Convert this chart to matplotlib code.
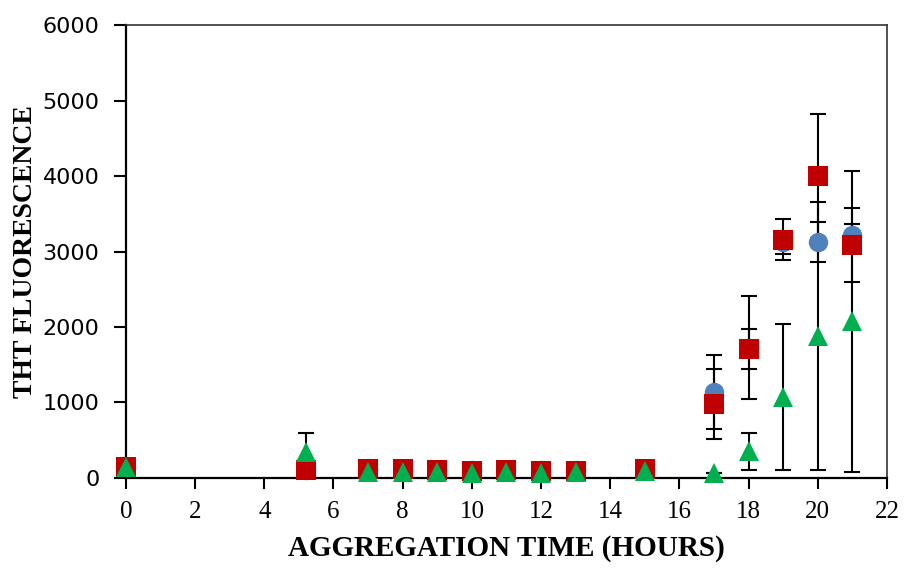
import numpy as np
import matplotlib
matplotlib.use("Agg")
import matplotlib.pyplot as plt

# aggregation time (hours)
t = [0, 5.2, 7, 8, 9, 10, 11, 12, 13, 15, 17, 18, 19, 20, 21]

# three series of ThT fluorescence with their error bars
blue = [150, 100, 120, 120, 110, 105, 110, 100, 100, 120, 1139, 1728, 3120, 3126, 3220]
blue_err = [0, 0, 0, 0, 0, 0, 0, 0, 0, 0, 490, 682, 150, 265, 150]

red = [150, 100, 120, 120, 100, 90, 100, 90, 90, 120, 980, 1709, 3158, 4000, 3086]
red_err = [0, 0, 0, 0, 0, 0, 0, 0, 0, 0, 463, 265, 272, 820, 490]

green = [150, 344, 80, 80, 80, 60, 80, 60, 80, 90, 60, 351, 1073, 1881, 2073]
green_err = [0, 252, 0, 0, 0, 0, 0, 0, 0, 0, 0, 245, 967, 1775, 1993]

plt.rcParams['font.family'] = ['Liberation Serif', 'DejaVu Serif']

fig = plt.figure(figsize=(9.06, 5.73), dpi=100)
ax = fig.add_axes([0.139, 0.166, 0.840, 0.790])

# error bars first (behind the markers)
for y, e in [(blue, blue_err), (red, red_err), (green, green_err)]:
    ax.errorbar(t, y, yerr=e, fmt='none', ecolor='black', elinewidth=1.5,
                capsize=6, capthick=1.5, zorder=2)

ax.plot(t, blue, 'o', color='#4F81BD', markersize=14, markeredgewidth=0, zorder=3, clip_on=False)
ax.plot(t, red, 's', color='#C00000', markersize=14, markeredgewidth=0, zorder=4, clip_on=False)
ax.plot(t, green, '^', color='#00B050', markersize=14, markeredgewidth=0, zorder=5, clip_on=False)

ax.set_xlim(0, 22)
ax.set_ylim(0, 6000)
ax.set_xticks(np.arange(0, 23, 2))
ax.set_yticks(np.arange(0, 6001, 1000))
ax.tick_params(axis='x', direction='out', length=8, width=1.5, labelsize=18, pad=9)
ax.tick_params(axis='y', direction='out', length=9, width=1.5, labelsize=16, pad=10)
for lab in ax.get_yticklabels():
    lab.set_family('DejaVu Sans')

for side in ['left', 'bottom']:
    ax.spines[side].set_linewidth(1.6)
for side in ['top', 'right']:
    ax.spines[side].set_linewidth(1.2)
    ax.spines[side].set_color('#333333')

ax.set_xlabel('AGGREGATION TIME (HOURS)', fontsize=21, fontweight='bold', labelpad=8)
ax.set_ylabel('THT FLUORESCENCE', fontsize=20, fontweight='bold', labelpad=3)

fig.savefig('out.png', dpi=100)
